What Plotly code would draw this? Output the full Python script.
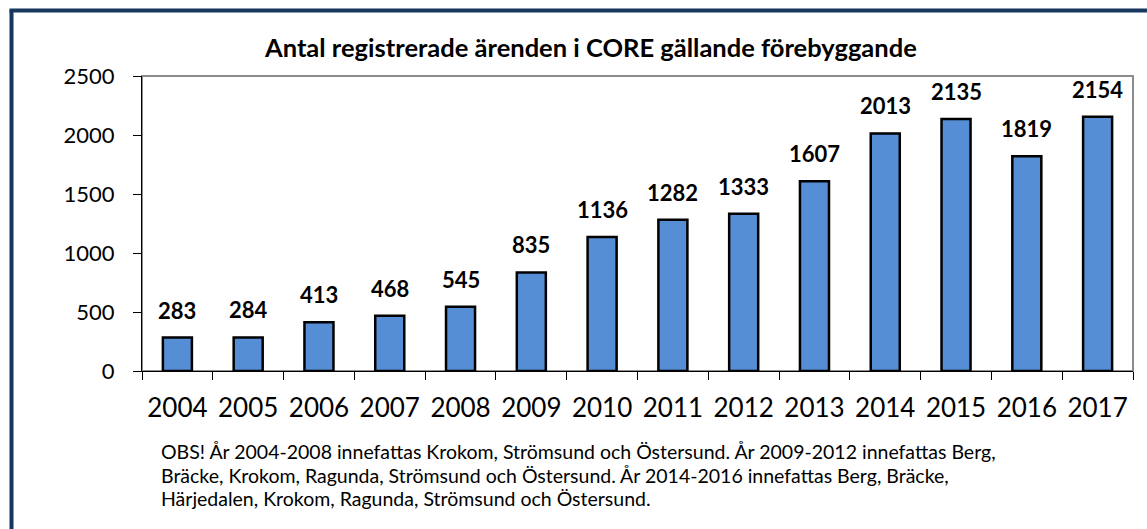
import plotly.graph_objects as go

years = ["2004", "2005", "2006", "2007", "2008", "2009", "2010", "2011",
         "2012", "2013", "2014", "2015", "2016", "2017"]
values = [283, 284, 413, 468, 545, 835, 1136, 1282, 1333, 1607, 2013, 2135, 1819, 2154]
title_text = "Antal registrerade ärenden i CORE gällande förebyggande"
note_lines = [
    "OBS! År 2004-2008 innefattas Krokom, Strömsund och Östersund. År 2009-2012 innefattas Berg,",
    "Bräcke, Krokom, Ragunda, Strömsund och Östersund. År 2014-2016 innefattas Berg, Bräcke,",
    "Härjedalen, Krokom, Ragunda, Strömsund och Östersund.",
]

FONT = "Lato, Carlito, Calibri, sans-serif"
W, H = 1147, 529
L, R, T, B = 142, 14, 76, 158
pw, ph = W - L - R, H - T - B

def px_x(x):
    return (x - L) / pw

def px_y(y):
    return (H - B - y) / ph

fig = go.Figure()
fig.add_trace(go.Bar(
    x=years, y=values,
    marker=dict(color="#558ed5", line=dict(color="black", width=2.5)),
    width=0.41,
    hoverinfo="x+y",
))

for i, v in enumerate(values):
    fig.add_annotation(x=i, y=v, text=f"<b>{v}</b>", showarrow=False,
                       yanchor="bottom", yshift=12,
                       font=dict(family=FONT, size=22, color="black"))

fig.add_annotation(xref="paper", yref="paper", x=px_x(590), y=px_y(47),
                   text=f"<b>{title_text}</b>", showarrow=False,
                   xanchor="center", yanchor="middle",
                   font=dict(family=FONT, size=25.5, color="black"))

for i, line in enumerate(note_lines):
    fig.add_annotation(xref="paper", yref="paper", x=px_x(159), y=px_y(452 + 23 * i),
                       text=line, showarrow=False, xanchor="left", yanchor="middle",
                       font=dict(family=FONT, size=19.5, color="black"))

# plot area border (gray)
fig.add_shape(type="rect", xref="paper", yref="paper", x0=0, x1=1, y0=0, y1=1,
              line=dict(color="#8c8c8c", width=2), layer="below")
# outer frame (dark navy, left & top)
fig.add_shape(type="line", xref="paper", yref="paper",
              x0=px_x(11.5), x1=px_x(11.5), y0=px_y(10), y1=px_y(H + 5),
              line=dict(color="#17375e", width=4))
fig.add_shape(type="line", xref="paper", yref="paper",
              x0=px_x(9.5), x1=px_x(W + 5), y0=px_y(10.5), y1=px_y(10.5),
              line=dict(color="#17375e", width=4))

fig.update_layout(
    width=W, height=H,
    margin=dict(l=L, r=R, t=T, b=B),
    paper_bgcolor="white", plot_bgcolor="white",
    showlegend=False,
    font=dict(family=FONT, color="black"),
    xaxis=dict(type="category", range=[-0.5, len(years) - 0.5],
               showline=True, linecolor="black", linewidth=1,
               ticks="outside", tickson="boundaries", ticklen=8, tickcolor="black",
               tickfont=dict(family=FONT, size=26), tickangle=0, showgrid=False,
               ticklabelstandoff=14),
    yaxis=dict(range=[0, 2500], tickvals=[0, 500, 1000, 1500, 2000, 2500],
               showline=True, linecolor="black", linewidth=1,
               ticks="outside", ticklen=8, tickcolor="black",
               tickfont=dict(family=FONT, size=22), showgrid=False, zeroline=False,
               ticklabelstandoff=14),
)

fig.write_html("out.html",
               config={"displayModeBar": False},
               post_script="document.body.style.margin='0px';document.body.style.overflow='hidden';")
